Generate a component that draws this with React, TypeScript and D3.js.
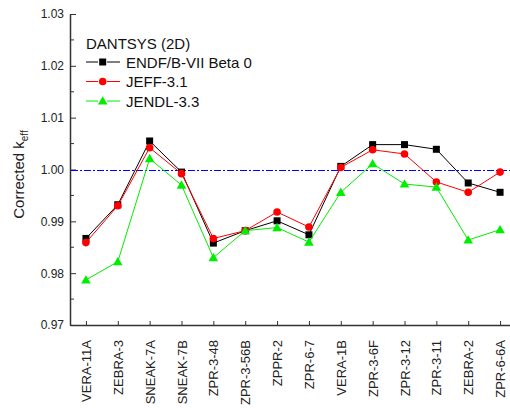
import React, { useEffect, useRef } from "react";
import * as d3 from "d3";

// benchmark cases on the x axis
const cases = [
  "VERA-11A", "ZEBRA-3", "SNEAK-7A", "SNEAK-7B", "ZPR-3-48", "ZPR-3-56B", "ZPPR-2",
  "ZPR-6-7", "VERA-1B", "ZPR-3-6F", "ZPR-3-12", "ZPR-3-11", "ZEBRA-2", "ZPR-6-6A",
];

const endfB7 = [0.9867, 0.9932, 1.0055, 0.9995, 0.9858, 0.9882, 0.9901, 0.9874, 1.0006, 1.0048, 1.0048, 1.0039, 0.9974, 0.9956];
const jeff31 = [0.9859, 0.9930, 1.0042, 0.9992, 0.9867, 0.9882, 0.9918, 0.9889, 1.0004, 1.0038, 1.0030, 0.9976, 0.9956, 0.9995];
const jendl33 = [0.9787, 0.9822, 1.0021, 0.9970, 0.9830, 0.9882, 0.9888, 0.9860, 0.9956, 1.0011, 0.9972, 0.9966, 0.9864, 0.9884];

const yTicks = [0.97, 0.98, 0.99, 1.0, 1.01, 1.02, 1.03];
const yMinor = [0.975, 0.985, 0.995, 1.005, 1.015, 1.025];

const series = [
  { name: "ENDF/B-VII Beta 0", values: endfB7, color: "#000000", marker: "square" },
  { name: "JEFF-3.1", values: jeff31, color: "#ff0000", marker: "circle" },
  { name: "JENDL-3.3", values: jendl33, color: "#00ee00", marker: "triangle" },
];

const font = "'Liberation Sans', Arial, sans-serif";

function drawMarker(g: any, kind: string, x: number, y: number, color: string) {
  if (kind === "square") {
    g.append("rect").attr("x", x - 3.5).attr("y", y - 3.5).attr("width", 7).attr("height", 7).attr("fill", color);
  } else if (kind === "circle") {
    g.append("circle").attr("cx", x).attr("cy", y).attr("r", 3.8).attr("fill", color);
  } else {
    g.append("path")
      .attr("d", d3.symbol().type(d3.symbolTriangle).size(40)())
      .attr("transform", `translate(${x},${y + 0.8})`)
      .attr("fill", color);
  }
}

export default function App() {
  const ref = useRef<SVGSVGElement>(null);

  useEffect(() => {
    const width = 510;
    const height = 408;
    const left = 70;
    const top = 14;
    const bottom = 325;

    const svg = d3.select(ref.current);
    svg.selectAll("*").remove();
    svg.attr("width", width).attr("height", height);

    const x = d3.scalePoint<string>().domain(cases).range([left, 516]).padding(0.5);
    const y = d3.scaleLinear().domain([0.97, 1.03]).range([bottom, top]);

    // y axis
    const yAxis = d3.axisLeft(y).tickValues(yTicks).tickFormat(d3.format(".2f"))
      .tickSizeInner(-6).tickSizeOuter(0).tickPadding(6);
    const gy = svg.append("g").attr("transform", `translate(${left},0)`).call(yAxis);
    gy.select(".domain").attr("stroke", "#333").attr("stroke-width", 1.5);
    gy.selectAll(".tick line").attr("stroke", "#333");
    gy.selectAll("text").attr("font-family", font).attr("font-size", 12).attr("fill", "#222");
    gy.selectAll(".minor").data(yMinor).enter().append("line")
      .attr("x1", 0).attr("x2", 4).attr("y1", (d) => y(d)).attr("y2", (d) => y(d))
      .attr("stroke", "#333");

    // reference line at 1.00
    const y1 = Math.round(y(1)) + 0.5;
    svg.append("line")
      .attr("x1", left + 1).attr("x2", width)
      .attr("y1", y1).attr("y2", y1)
      .style("stroke", "#0000ff").style("stroke-width", 1)
      .style("stroke-dasharray", "7,2,2,2");

    // x axis
    const xAxis = d3.axisBottom(x).tickSizeInner(-4).tickSizeOuter(0).tickPadding(8);
    const gx = svg.append("g").attr("transform", `translate(0,${bottom})`).call(xAxis);
    gx.select(".domain").attr("stroke", "#333").attr("stroke-width", 1.5);
    gx.selectAll(".tick line").attr("stroke", "#333");
    gx.selectAll("text")
      .attr("font-family", font).attr("font-size", 13).attr("fill", "#222")
      .attr("transform", "rotate(-90)")
      .attr("text-anchor", "end")
      .attr("x", -15).attr("y", 0).attr("dy", "0.35em");

    // y title
    const title = svg.append("text")
      .attr("transform", `translate(24,${(top + bottom) / 2 + 5}) rotate(-90)`)
      .attr("text-anchor", "middle")
      .attr("font-family", font).attr("font-size", 15).attr("fill", "#222");
    title.append("tspan").text("Corrected k");
    title.append("tspan").attr("font-size", 10).attr("dy", 4).text("eff");

    // series
    series.forEach((s) => {
      const line = d3.line<number>()
        .x((_, i) => x(cases[i]) as number)
        .y((d) => y(d));
      svg.append("path").datum(s.values)
        .attr("d", line).attr("fill", "none")
        .attr("stroke", s.color).attr("stroke-width", 1);
      const gm = svg.append("g");
      s.values.forEach((v, i) => drawMarker(gm, s.marker, x(cases[i]) as number, y(v), s.color));
    });

    // legend
    const lg = svg.append("g");
    lg.append("text").attr("x", 86).attr("y", 49)
      .attr("font-family", font).attr("font-size", 15).attr("fill", "#111")
      .text("DANTSYS (2D)");
    series.forEach((s, i) => {
      const ly = 62 + i * 19.5;
      lg.append("line").attr("x1", 86).attr("x2", 98).attr("y1", ly).attr("y2", ly)
        .attr("stroke", s.color).attr("stroke-width", 1);
      lg.append("line").attr("x1", 107).attr("x2", 120).attr("y1", ly).attr("y2", ly)
        .attr("stroke", s.color).attr("stroke-width", 1);
      drawMarker(lg, s.marker, 102.7, ly, s.color);
      lg.append("text").attr("x", 126).attr("y", ly + 5.5)
        .attr("font-family", font).attr("font-size", 15).attr("fill", "#111")
        .text(s.name);
    });
  }, []);

  return (
    <svg
      ref={ref}
      style={{ position: "absolute", left: 0, top: 0, background: "#fff" }}
    />
  );
}
